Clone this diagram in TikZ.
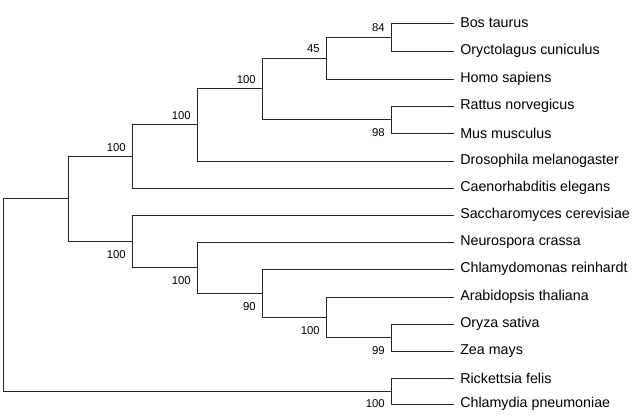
\documentclass[tikz,border=0pt]{standalone}
\usepackage{fontspec}
\setmainfont{Liberation Sans}
\begin{document}
\begin{tikzpicture}[x=0.75pt,y=-0.75pt,
  branch/.style={draw=black!85,line width=0.75pt},
  leaf/.style={anchor=west,inner xsep=4.5pt,inner ysep=0pt,font=\fontsize{10.7}{12}\selectfont},
  labup/.style={anchor=east,inner sep=0pt,xshift=-4.5pt,yshift=6.75pt,font=\fontsize{8.5}{10}\selectfont},
  labdn/.style={anchor=east,inner sep=0pt,xshift=-4.5pt,yshift=-9.75pt,font=\fontsize{8.5}{10}\selectfont}]
\useasboundingbox (0,0) rectangle (634,419);
% leaves
\node[leaf] (bos)  at (454,23)  {Bos taurus};
\node[leaf] (ory)  at (454,51)  {Oryctolagus cuniculus};
\node[leaf] (hom)  at (454,79)  {Homo sapiens};
\node[leaf] (rat)  at (454,106) {Rattus norvegicus};
\node[leaf] (mus)  at (454,133) {Mus musculus};
\node[leaf] (dro)  at (454,161) {Drosophila melanogaster};
\node[leaf] (cae)  at (454,188) {Caenorhabditis elegans};
\node[leaf] (sac)  at (454,215) {Saccharomyces cerevisiae};
\node[leaf] (neu)  at (454,242) {Neurospora crassa};
\node[leaf] (chl)  at (454,269) {Chlamydomonas reinhardt};
\node[leaf] (ara)  at (454,297) {Arabidopsis thaliana};
\node[leaf] (ory2) at (454,324) {Oryza sativa};
\node[leaf] (zea)  at (454,351) {Zea mays};
\node[leaf] (ric)  at (454,378) {Rickettsia felis};
\node[leaf] (chp)  at (454,404) {Chlamydia pneumoniae};
% internal nodes
\coordinate (n84) at (391,37);
\coordinate (n45) at (326,58);
\coordinate (n98) at (391,119.5);
\coordinate (nM)  at (262,88.75);
\coordinate (nD)  at (197,124.9);
\coordinate (nC)  at (132,156.4);
\coordinate (n99) at (391,337.5);
\coordinate (nA)  at (326,317.25);
\coordinate (n90) at (262,293.1);
\coordinate (nN)  at (197,267.6);
\coordinate (nS)  at (132,241.3);
\coordinate (nE)  at (68,198.9);
\coordinate (nB)  at (391,391);
\coordinate (root) at (3,295);
% branches
\draw[branch] (n84) |- (bos.west);
\draw[branch] (n84) |- (ory.west);
\draw[branch] (n45) |- (n84);
\draw[branch] (n45) |- (hom.west);
\draw[branch] (n98) |- (rat.west);
\draw[branch] (n98) |- (mus.west);
\draw[branch] (nM) |- (n45);
\draw[branch] (nM) |- (n98);
\draw[branch] (nD) |- (nM);
\draw[branch] (nD) |- (dro.west);
\draw[branch] (nC) |- (nD);
\draw[branch] (nC) |- (cae.west);
\draw[branch] (n99) |- (ory2.west);
\draw[branch] (n99) |- (zea.west);
\draw[branch] (nA) |- (ara.west);
\draw[branch] (nA) |- (n99);
\draw[branch] (n90) |- (chl.west);
\draw[branch] (n90) |- (nA);
\draw[branch] (nN) |- (neu.west);
\draw[branch] (nN) |- (n90);
\draw[branch] (nS) |- (sac.west);
\draw[branch] (nS) |- (nN);
\draw[branch] (nE) |- (nC);
\draw[branch] (nE) |- (nS);
\draw[branch] (nB) |- (ric.west);
\draw[branch] (nB) |- (chp.west);
\draw[branch] (root) |- (nE);
\draw[branch] (root) |- (nB);
% bootstrap values
\node[labup] (l84) at (n84) {84};
\node[labup] (l45) at (n45) {45};
\node[labup] (lM)  at (nM)  {100};
\node[labup] (lD)  at (nD)  {100};
\node[labup] (lC)  at (nC)  {100};
\node[labdn] (l98) at (n98) {98};
\node[labdn] (lS)  at (nS)  {100};
\node[labdn] (lN)  at (nN)  {100};
\node[labdn] (l90) at (n90) {90};
\node[labdn] (lA)  at (nA)  {100};
\node[labdn] (l99) at (n99) {99};
\node[labdn] (lB)  at (nB)  {100};
\end{tikzpicture}
\end{document}
